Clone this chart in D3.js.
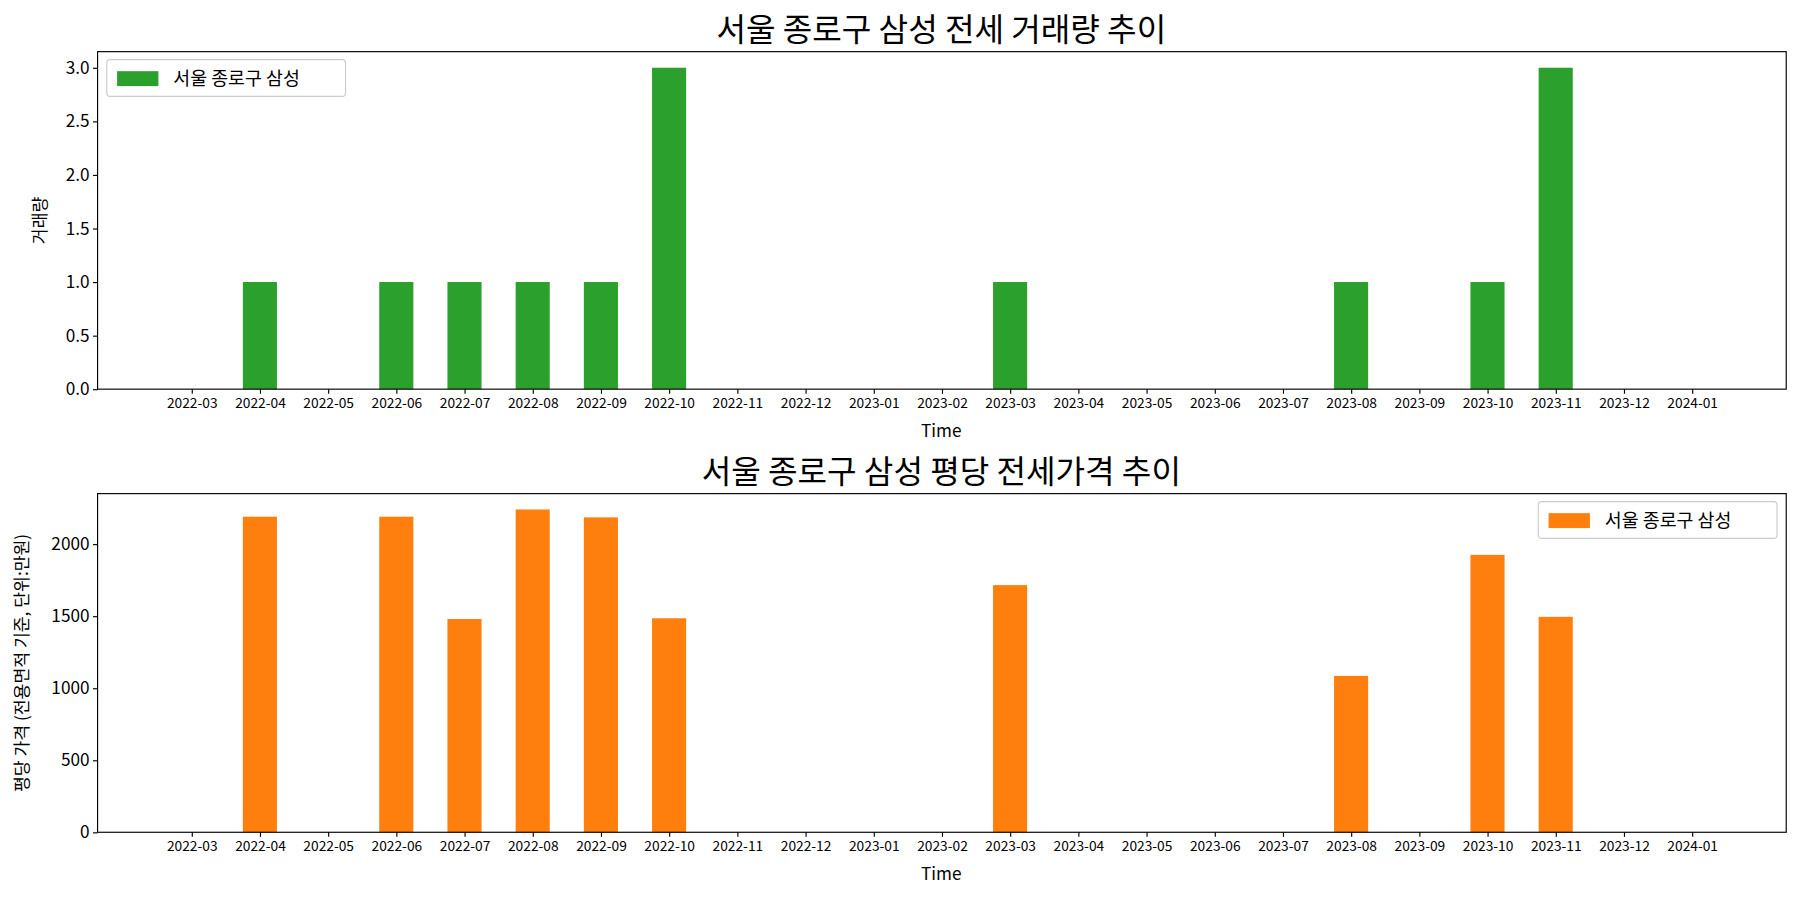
<!DOCTYPE html>
<html><head><meta charset="utf-8">
<script src="https://cdn.jsdelivr.net/npm/d3@7"></script>
<style>
body{margin:0;background:#fff;}
text{font-family:"Noto Sans CJK KR","Noto Sans",sans-serif;fill:#000;}
</style></head>
<body><svg id="c" width="1800" height="900" viewBox="0 0 1568 784"></svg>
<script>
const months = ["2022-03","2022-04","2022-05","2022-06","2022-07","2022-08","2022-09","2022-10","2022-11","2022-12",
  "2023-01","2023-02","2023-03","2023-04","2023-05","2023-06","2023-07","2023-08","2023-09","2023-10","2023-11","2023-12","2024-01"];
const volume = [0,1,0,1,1,1,1,3,0,0,0,0,1,0,0,0,0,1,0,1,3,0,0];
const price = [0,2190,0,2190,1480,2240,2185,1485,0,0,0,0,1715,0,0,0,0,1085,0,1925,1495,0,0];
const volTicks = [0,0.5,1,1.5,2,2.5,3];
const priceTicks = [0,500,1000,1500,2000];
const label = "서울 종로구 삼성";

const svg = d3.select("#c");
const x = d3.scaleLinear().domain([-1.38, months.length - 1 + 1.38]).range([85, 1556]);
const barW = 0.5 * (x(1) - x(0));

function panel(top, bottom, data, yMax, ticks, fmt, color, title, ylab, ylabX, legendRight) {
  const y = d3.scaleLinear().domain([0, yMax]).range([bottom, top]);
  const g = svg.append("g");
  g.selectAll("rect.bar").data(data).join("rect")
    .attr("x", (d, i) => x(i) - barW / 2).attr("width", barW)
    .attr("y", d => y(d)).attr("height", d => y(0) - y(d))
    .attr("fill", color);
  g.append("rect").attr("x", 85).attr("y", top).attr("width", 1471).attr("height", bottom - top)
    .attr("fill", "none").attr("stroke", "#000").attr("stroke-width", 1);
  const ya = g.append("g").attr("transform", "translate(85,0)")
    .call(d3.axisLeft(y).tickValues(ticks).tickFormat(fmt).tickSize(4).tickPadding(3));
  ya.select(".domain").remove();
  ya.selectAll("text").style("font-size", "15px");
  const xa = g.append("g").attr("transform", `translate(0,${bottom})`)
    .call(d3.axisBottom(x).tickValues(d3.range(months.length)).tickFormat(i => months[i]).tickSize(4).tickPadding(4));
  xa.select(".domain").remove();
  xa.selectAll("text").style("font-size", "12px");
  g.append("text").attr("x", 820).attr("y", top - 9).attr("text-anchor", "middle")
    .style("font-size", "28px").text(title);
  g.append("text").attr("x", 820).attr("y", bottom + 42).attr("text-anchor", "middle")
    .style("font-size", "15px").text("Time");
  g.append("text").attr("transform", `translate(${ylabX},${(top + bottom) / 2}) rotate(-90)`)
    .attr("text-anchor", "middle").style("font-size", "15px").text(ylab);
  const lw = 208, lx = legendRight ? 1556 - lw - 8 : 93, ly = top + 7;
  g.append("rect").attr("x", lx).attr("y", ly).attr("width", lw).attr("height", 32).attr("rx", 3)
    .attr("fill", "#fff").attr("stroke", "#ccc");
  g.append("rect").attr("x", lx + 9).attr("y", ly + 10).attr("width", 36).attr("height", 13).attr("fill", color);
  g.append("text").attr("x", lx + 58).attr("y", ly + 22).style("font-size", "16px").text(label);
}

panel(45, 339, volume, 3.15, volTicks, d3.format(".1f"), "#2ca02c", "서울 종로구 삼성 전세 거래량 추이", "거래량", 40, false);
panel(430, 725, price, 2350, priceTicks, d3.format("d"), "#ff7f0e", "서울 종로구 삼성 평당 전세가격 추이", "평당 가격 (전용면적 기준, 단위:만원)", 24, true);
</script></body></html>
